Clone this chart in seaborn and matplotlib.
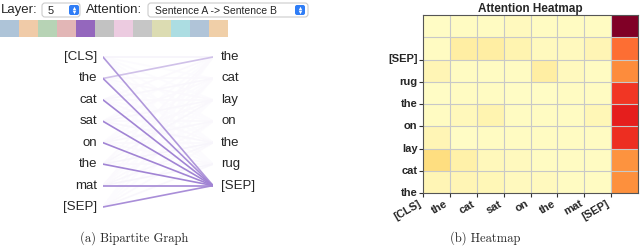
import numpy as np
import pandas as pd
import matplotlib
matplotlib.use("Agg")
import matplotlib.pyplot as plt
from matplotlib.colors import LinearSegmentedColormap
from matplotlib.patches import FancyBboxPatch, Rectangle
import seaborn as sns

# tokens
left_tokens = ["[CLS]", "the", "cat", "sat", "on", "the", "mat", "[SEP]"]
right_tokens = ["the", "cat", "lay", "on", "the", "rug", "[SEP]"]

# bipartite attention weights (left token -> right token)
graph_weights = [
    [0.06, 0.02, 0.02, 0.02, 0.02, 0.02, 0.50],
    [0.30, 0.03, 0.03, 0.02, 0.02, 0.02, 0.55],
    [0.03, 0.04, 0.03, 0.02, 0.03, 0.02, 0.60],
    [0.02, 0.03, 0.04, 0.03, 0.04, 0.02, 0.60],
    [0.02, 0.02, 0.03, 0.04, 0.03, 0.03, 0.62],
    [0.03, 0.02, 0.04, 0.02, 0.05, 0.03, 0.62],
    [0.03, 0.03, 0.02, 0.03, 0.04, 0.05, 0.58],
    [0.02, 0.02, 0.02, 0.02, 0.03, 0.04, 0.55],
]

# heatmap (rows top to bottom)
heat_x_labels = ["[CLS]", "the", "cat", "sat", "on", "the", "mat", "[SEP]"]
heat_y_labels = ["the", "cat", "lay", "on", "the", "rug", "[SEP]"]  # bottom edge upward
heat_values = [
    [0.02, 0.03, 0.03, 0.04, 0.03, 0.03, 0.03, 1.00],
    [0.03, 0.12, 0.12, 0.08, 0.04, 0.04, 0.07, 0.56],
    [0.07, 0.03, 0.03, 0.03, 0.12, 0.04, 0.03, 0.50],
    [0.02, 0.03, 0.03, 0.02, 0.02, 0.03, 0.03, 0.68],
    [0.03, 0.05, 0.08, 0.03, 0.03, 0.03, 0.06, 0.74],
    [0.07, 0.02, 0.03, 0.03, 0.03, 0.03, 0.03, 0.70],
    [0.22, 0.10, 0.05, 0.04, 0.03, 0.03, 0.03, 0.48],
    [0.07, 0.07, 0.06, 0.04, 0.04, 0.03, 0.03, 0.49],
]

head_colors = ["#aec4d8", "#f0cba8", "#b7d3b5", "#e2b6b6", "#9467bd", "#c2c2c2",
               "#eccbe0", "#c6c6c6", "#dcdcb2", "#acdde2", "#b0c4d8", "#f0cfa8"]

sns.set_style("white")
plt.rcParams["font.family"] = ["Liberation Sans", "DejaVu Sans"]

fig = plt.figure(figsize=(6.4, 2.5), dpi=100)

# ---- controls bar (pixel coords) ----
ui = fig.add_axes([0, 0, 1, 1])
ui.set_xlim(0, 640)
ui.set_ylim(250, 0)
ui.axis("off")
ui.text(1, 10, "Layer:", fontsize=9.5, va="center", ha="left")
ui.add_patch(FancyBboxPatch((42, 3), 38, 14, boxstyle="round,pad=0,rounding_size=3",
                            fc="white", ec="#cccccc", lw=0.8))
ui.text(48, 10.5, "5", fontsize=8, va="center")
ui.text(86, 10, "Attention:", fontsize=9.5, va="center", ha="left")
ui.add_patch(FancyBboxPatch((148, 3), 160, 14, boxstyle="round,pad=0,rounding_size=3",
                            fc="white", ec="#cccccc", lw=0.8))
ui.text(155, 10.5, "Sentence A -> Sentence B", fontsize=7.5, va="center")
for bx in (69, 295):
    ui.add_patch(FancyBboxPatch((bx, 5), 10, 10, boxstyle="round,pad=0,rounding_size=2",
                                fc="#2f7df6", ec="none"))
    ui.plot([bx + 5], [8], marker="^", ms=2.5, color="white", mec="none")
    ui.plot([bx + 5], [12], marker="v", ms=2.5, color="white", mec="none")
for i, c in enumerate(head_colors):
    ui.add_patch(Rectangle((i * 19, 20), 19, 17, fc=c, ec="none"))

# ---- bipartite graph ----
rows = []
for i, lt in enumerate(left_tokens):
    for j, rt in enumerate(right_tokens):
        rows.append({"pair": f"{i}-{j}", "x": 0, "y": i, "w": graph_weights[i][j]})
        rows.append({"pair": f"{i}-{j}", "x": 1, "y": j, "w": graph_weights[i][j]})
df = pd.DataFrame(rows)

gax = fig.add_axes([103 / 640, 1 - 217.7 / 250, 110 / 640, 171.4 / 250])
purple_cmap = LinearSegmentedColormap.from_list("p", ["#ffffff", "#a184d4"])
sns.lineplot(data=df, x="x", y="y", units="pair", estimator=None, hue="w",
             hue_norm=(0, 0.6), palette=purple_cmap, lw=1.2, legend=False, ax=gax)
gax.set_xlim(0, 1)
gax.set_ylim(7.5, -0.5)
gax.axis("off")
for i, t in enumerate(left_tokens):
    gax.annotate(t, (0, i), xytext=(-6, 0), textcoords="offset pixels",
                 ha="right", va="center", fontsize=9.5)
for j, t in enumerate(right_tokens):
    gax.annotate(t, (1, j), xytext=(8, 0), textcoords="offset pixels",
                 ha="left", va="center", fontsize=9.5)

# ---- heatmap ----
hax = fig.add_axes([423 / 640, 1 - 193 / 250, 215 / 640, 178 / 250])
sns.heatmap(np.array(heat_values), cmap="YlOrRd", vmin=0, vmax=1, cbar=False, ax=hax)
hax.set_xticks(range(len(heat_x_labels)))
hax.set_xticklabels(heat_x_labels, rotation=30, ha="right", fontsize=8, fontweight="bold")
hax.set_yticks([8 - k for k in range(len(heat_y_labels))])
hax.set_yticklabels(heat_y_labels, rotation=0, fontsize=8, fontweight="bold")
hax.tick_params(length=3, width=0.8, pad=1, color="#333333", bottom=True, left=True)
for k in range(1, 8):
    hax.axvline(k, color="#c8c8c8", lw=0.8)
    hax.axhline(k, color="#c8c8c8", lw=0.8)
for s in hax.spines.values():
    s.set_visible(True)
    s.set_color("#555555")
    s.set_linewidth(0.8)
hax.set_title("Attention Heatmap", fontsize=8.5, fontweight="bold", pad=2)

# captions
fig.text(134 / 640, 1 - 238 / 250, "(a) Bipartite Graph", family="cmr10",
         fontsize=9, ha="center", va="center")
fig.text(485 / 640, 1 - 238 / 250, "(b) Heatmap", family="cmr10",
         fontsize=9, ha="center", va="center")

fig.savefig("out.png", dpi=100)
